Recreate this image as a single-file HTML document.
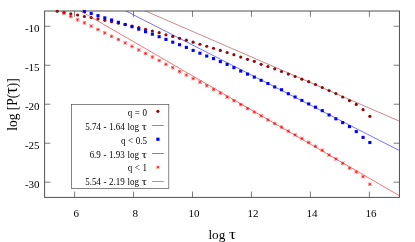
<!DOCTYPE html>
<html><head><meta charset="utf-8"><title>plot</title>
<style>
html,body{margin:0;padding:0;background:#fff;}
svg{display:block;font-family:"Liberation Serif",serif;fill:#000;will-change:transform;}
</style></head>
<body>
<svg width="415" height="242" viewBox="0 0 415 242">
<rect width="415" height="242" fill="#fff"/>
<clipPath id="c"><rect x="44.6" y="11.0" width="354.84999999999997" height="186.4"/></clipPath>
<rect x="44.6" y="11.0" width="354.84999999999997" height="186.4" fill="none" stroke="#505050" stroke-width="1.0"/>
<path d="M74.60 197.4v-5.8M74.60 11.0v5.8" stroke="#505050" stroke-width="0.75"/>
<text x="76.20" y="216.5" font-size="11" text-anchor="middle">6</text>
<path d="M133.56 197.4v-5.8M133.56 11.0v5.8" stroke="#505050" stroke-width="0.75"/>
<text x="135.16" y="216.5" font-size="11" text-anchor="middle">8</text>
<path d="M192.52 197.4v-5.8M192.52 11.0v5.8" stroke="#505050" stroke-width="0.75"/>
<text x="194.12" y="216.5" font-size="11" text-anchor="middle">10</text>
<path d="M251.48 197.4v-5.8M251.48 11.0v5.8" stroke="#505050" stroke-width="0.75"/>
<text x="253.08" y="216.5" font-size="11" text-anchor="middle">12</text>
<path d="M310.44 197.4v-5.8M310.44 11.0v5.8" stroke="#505050" stroke-width="0.75"/>
<text x="312.04" y="216.5" font-size="11" text-anchor="middle">14</text>
<path d="M369.40 197.4v-5.8M369.40 11.0v5.8" stroke="#505050" stroke-width="0.75"/>
<text x="371.00" y="216.5" font-size="11" text-anchor="middle">16</text>
<path d="M44.6 182.20h5.8M399.45 182.20h-5.8" stroke="#505050" stroke-width="0.75"/>
<text x="39.6" y="187.55" font-size="11" text-anchor="end">-30</text>
<path d="M44.6 143.21h5.8M399.45 143.21h-5.8" stroke="#505050" stroke-width="0.75"/>
<text x="39.6" y="148.56" font-size="11" text-anchor="end">-25</text>
<path d="M44.6 104.23h5.8M399.45 104.23h-5.8" stroke="#505050" stroke-width="0.75"/>
<text x="39.6" y="109.58" font-size="11" text-anchor="end">-20</text>
<path d="M44.6 65.24h5.8M399.45 65.24h-5.8" stroke="#505050" stroke-width="0.75"/>
<text x="39.6" y="70.59" font-size="11" text-anchor="end">-15</text>
<path d="M44.6 26.25h5.8M399.45 26.25h-5.8" stroke="#505050" stroke-width="0.75"/>
<text x="39.6" y="31.60" font-size="11" text-anchor="end">-10</text>
<circle cx="57.20" cy="11.27" r="1.58" fill="#900808"/>
<circle cx="64.00" cy="12.50" r="1.58" fill="#900808"/>
<circle cx="70.79" cy="13.80" r="1.58" fill="#900808"/>
<circle cx="77.59" cy="15.00" r="1.58" fill="#900808"/>
<circle cx="84.39" cy="16.50" r="1.58" fill="#900808"/>
<circle cx="91.19" cy="17.50" r="1.58" fill="#900808"/>
<circle cx="97.98" cy="18.90" r="1.58" fill="#900808"/>
<circle cx="104.78" cy="20.30" r="1.58" fill="#900808"/>
<circle cx="111.58" cy="21.65" r="1.58" fill="#900808"/>
<circle cx="118.37" cy="23.20" r="1.58" fill="#900808"/>
<circle cx="125.17" cy="24.60" r="1.58" fill="#900808"/>
<circle cx="131.97" cy="26.00" r="1.58" fill="#900808"/>
<circle cx="138.76" cy="27.50" r="1.58" fill="#900808"/>
<circle cx="145.56" cy="29.30" r="1.58" fill="#900808"/>
<circle cx="152.36" cy="31.00" r="1.58" fill="#900808"/>
<circle cx="159.16" cy="32.65" r="1.58" fill="#900808"/>
<circle cx="165.95" cy="34.80" r="1.58" fill="#900808"/>
<circle cx="172.75" cy="36.40" r="1.58" fill="#900808"/>
<circle cx="179.55" cy="38.30" r="1.58" fill="#900808"/>
<circle cx="186.34" cy="40.20" r="1.58" fill="#900808"/>
<circle cx="193.14" cy="42.14" r="1.58" fill="#900808"/>
<circle cx="199.94" cy="44.27" r="1.58" fill="#900808"/>
<circle cx="206.73" cy="46.28" r="1.58" fill="#900808"/>
<circle cx="213.53" cy="48.28" r="1.58" fill="#900808"/>
<circle cx="220.33" cy="50.40" r="1.58" fill="#900808"/>
<circle cx="227.12" cy="52.50" r="1.58" fill="#900808"/>
<circle cx="233.92" cy="54.70" r="1.58" fill="#900808"/>
<circle cx="240.72" cy="57.05" r="1.58" fill="#900808"/>
<circle cx="247.52" cy="59.30" r="1.58" fill="#900808"/>
<circle cx="254.31" cy="61.30" r="1.58" fill="#900808"/>
<circle cx="261.11" cy="64.30" r="1.58" fill="#900808"/>
<circle cx="267.91" cy="66.50" r="1.58" fill="#900808"/>
<circle cx="274.70" cy="68.80" r="1.58" fill="#900808"/>
<circle cx="281.50" cy="71.50" r="1.58" fill="#900808"/>
<circle cx="288.30" cy="74.05" r="1.58" fill="#900808"/>
<circle cx="295.09" cy="76.50" r="1.58" fill="#900808"/>
<circle cx="301.89" cy="79.20" r="1.58" fill="#900808"/>
<circle cx="308.69" cy="81.70" r="1.58" fill="#900808"/>
<circle cx="315.49" cy="84.50" r="1.58" fill="#900808"/>
<circle cx="322.28" cy="87.50" r="1.58" fill="#900808"/>
<circle cx="329.08" cy="90.50" r="1.58" fill="#900808"/>
<circle cx="335.88" cy="93.50" r="1.58" fill="#900808"/>
<circle cx="342.67" cy="97.00" r="1.58" fill="#900808"/>
<circle cx="349.47" cy="100.60" r="1.58" fill="#900808"/>
<circle cx="356.27" cy="104.40" r="1.58" fill="#900808"/>
<circle cx="363.06" cy="109.65" r="1.58" fill="#900808"/>
<circle cx="369.86" cy="116.30" r="1.58" fill="#900808"/>
<line clip-path="url(#c)" x1="45.12" y1="-32.54" x2="398.88" y2="120.91" stroke="#900808" stroke-width="0.48"/>
<rect x="82.84" y="9.95" width="3.1" height="3.1" fill="#0000ff"/>
<rect x="89.64" y="11.95" width="3.1" height="3.1" fill="#0000ff"/>
<rect x="96.43" y="14.10" width="3.1" height="3.1" fill="#0000ff"/>
<rect x="103.23" y="16.35" width="3.1" height="3.1" fill="#0000ff"/>
<rect x="110.03" y="18.45" width="3.1" height="3.1" fill="#0000ff"/>
<rect x="116.82" y="20.75" width="3.1" height="3.1" fill="#0000ff"/>
<rect x="123.62" y="22.95" width="3.1" height="3.1" fill="#0000ff"/>
<rect x="130.42" y="25.15" width="3.1" height="3.1" fill="#0000ff"/>
<rect x="137.21" y="27.65" width="3.1" height="3.1" fill="#0000ff"/>
<rect x="144.01" y="30.15" width="3.1" height="3.1" fill="#0000ff"/>
<rect x="150.81" y="32.60" width="3.1" height="3.1" fill="#0000ff"/>
<rect x="157.60" y="35.15" width="3.1" height="3.1" fill="#0000ff"/>
<rect x="164.40" y="37.85" width="3.1" height="3.1" fill="#0000ff"/>
<rect x="171.20" y="40.65" width="3.1" height="3.1" fill="#0000ff"/>
<rect x="178.00" y="43.15" width="3.1" height="3.1" fill="#0000ff"/>
<rect x="184.79" y="45.85" width="3.1" height="3.1" fill="#0000ff"/>
<rect x="191.59" y="48.85" width="3.1" height="3.1" fill="#0000ff"/>
<rect x="198.39" y="51.65" width="3.1" height="3.1" fill="#0000ff"/>
<rect x="205.18" y="54.50" width="3.1" height="3.1" fill="#0000ff"/>
<rect x="211.98" y="57.05" width="3.1" height="3.1" fill="#0000ff"/>
<rect x="218.78" y="60.05" width="3.1" height="3.1" fill="#0000ff"/>
<rect x="225.57" y="62.85" width="3.1" height="3.1" fill="#0000ff"/>
<rect x="232.37" y="66.05" width="3.1" height="3.1" fill="#0000ff"/>
<rect x="239.17" y="69.50" width="3.1" height="3.1" fill="#0000ff"/>
<rect x="245.97" y="72.55" width="3.1" height="3.1" fill="#0000ff"/>
<rect x="252.76" y="75.55" width="3.1" height="3.1" fill="#0000ff"/>
<rect x="259.56" y="78.80" width="3.1" height="3.1" fill="#0000ff"/>
<rect x="266.36" y="81.95" width="3.1" height="3.1" fill="#0000ff"/>
<rect x="273.15" y="85.40" width="3.1" height="3.1" fill="#0000ff"/>
<rect x="279.95" y="88.20" width="3.1" height="3.1" fill="#0000ff"/>
<rect x="286.75" y="92.15" width="3.1" height="3.1" fill="#0000ff"/>
<rect x="293.54" y="95.45" width="3.1" height="3.1" fill="#0000ff"/>
<rect x="300.34" y="98.85" width="3.1" height="3.1" fill="#0000ff"/>
<rect x="307.14" y="102.35" width="3.1" height="3.1" fill="#0000ff"/>
<rect x="313.94" y="105.65" width="3.1" height="3.1" fill="#0000ff"/>
<rect x="320.73" y="109.10" width="3.1" height="3.1" fill="#0000ff"/>
<rect x="327.53" y="113.40" width="3.1" height="3.1" fill="#0000ff"/>
<rect x="334.33" y="117.25" width="3.1" height="3.1" fill="#0000ff"/>
<rect x="341.12" y="121.05" width="3.1" height="3.1" fill="#0000ff"/>
<rect x="347.92" y="125.05" width="3.1" height="3.1" fill="#0000ff"/>
<rect x="354.72" y="130.05" width="3.1" height="3.1" fill="#0000ff"/>
<rect x="361.51" y="135.85" width="3.1" height="3.1" fill="#0000ff"/>
<rect x="368.31" y="140.95" width="3.1" height="3.1" fill="#0000ff"/>
<line clip-path="url(#c)" x1="45.12" y1="-30.28" x2="398.88" y2="150.31" stroke="#0000ff" stroke-width="0.55"/>
<path d="M62.25 13.30H65.75M64.00 11.55V15.05M62.33 11.64L65.66 14.96M62.33 14.96L65.66 11.64" stroke="#ff0000" stroke-width="0.6" fill="none"/>
<path d="M69.04 16.50H72.54M70.79 14.75V18.25M69.13 14.84L72.46 18.16M69.13 18.16L72.46 14.84" stroke="#ff0000" stroke-width="0.6" fill="none"/>
<path d="M75.84 19.80H79.34M77.59 18.05V21.55M75.93 18.14L79.25 21.46M75.93 21.46L79.25 18.14" stroke="#ff0000" stroke-width="0.6" fill="none"/>
<path d="M82.64 22.90H86.14M84.39 21.15V24.65M82.73 21.24L86.05 24.56M82.73 24.56L86.05 21.24" stroke="#ff0000" stroke-width="0.6" fill="none"/>
<path d="M89.44 26.05H92.94M91.19 24.30V27.80M89.52 24.39L92.85 27.71M89.52 27.71L92.85 24.39" stroke="#ff0000" stroke-width="0.6" fill="none"/>
<path d="M96.23 29.50H99.73M97.98 27.75V31.25M96.32 27.84L99.64 31.16M96.32 31.16L99.64 27.84" stroke="#ff0000" stroke-width="0.6" fill="none"/>
<path d="M103.03 32.90H106.53M104.78 31.15V34.65M103.12 31.24L106.44 34.56M103.12 34.56L106.44 31.24" stroke="#ff0000" stroke-width="0.6" fill="none"/>
<path d="M109.83 36.30H113.33M111.58 34.55V38.05M109.91 34.64L113.24 37.96M109.91 37.96L113.24 34.64" stroke="#ff0000" stroke-width="0.6" fill="none"/>
<path d="M116.62 39.50H120.12M118.37 37.75V41.25M116.71 37.84L120.04 41.16M116.71 41.16L120.04 37.84" stroke="#ff0000" stroke-width="0.6" fill="none"/>
<path d="M123.42 42.90H126.92M125.17 41.15V44.65M123.51 41.24L126.83 44.56M123.51 44.56L126.83 41.24" stroke="#ff0000" stroke-width="0.6" fill="none"/>
<path d="M130.22 46.40H133.72M131.97 44.65V48.15M130.30 44.74L133.63 48.06M130.30 48.06L133.63 44.74" stroke="#ff0000" stroke-width="0.6" fill="none"/>
<path d="M137.01 50.00H140.51M138.76 48.25V51.75M137.10 48.34L140.43 51.66M137.10 51.66L140.43 48.34" stroke="#ff0000" stroke-width="0.6" fill="none"/>
<path d="M143.81 53.50H147.31M145.56 51.75V55.25M143.90 51.84L147.22 55.16M143.90 55.16L147.22 51.84" stroke="#ff0000" stroke-width="0.6" fill="none"/>
<path d="M150.61 57.00H154.11M152.36 55.25V58.75M150.70 55.34L154.02 58.66M150.70 58.66L154.02 55.34" stroke="#ff0000" stroke-width="0.6" fill="none"/>
<path d="M157.41 60.55H160.91M159.16 58.80V62.30M157.49 58.89L160.82 62.21M157.49 62.21L160.82 58.89" stroke="#ff0000" stroke-width="0.6" fill="none"/>
<path d="M164.20 64.30H167.70M165.95 62.55V66.05M164.29 62.64L167.61 65.96M164.29 65.96L167.61 62.64" stroke="#ff0000" stroke-width="0.6" fill="none"/>
<path d="M171.00 67.60H174.50M172.75 65.85V69.35M171.09 65.94L174.41 69.26M171.09 69.26L174.41 65.94" stroke="#ff0000" stroke-width="0.6" fill="none"/>
<path d="M177.80 71.58H181.30M179.55 69.83V73.33M177.88 69.92L181.21 73.24M177.88 73.24L181.21 69.92" stroke="#ff0000" stroke-width="0.6" fill="none"/>
<path d="M184.59 75.08H188.09M186.34 73.33V76.83M184.68 73.42L188.01 76.74M184.68 76.74L188.01 73.42" stroke="#ff0000" stroke-width="0.6" fill="none"/>
<path d="M191.39 78.58H194.89M193.14 76.83V80.33M191.48 76.92L194.80 80.24M191.48 80.24L194.80 76.92" stroke="#ff0000" stroke-width="0.6" fill="none"/>
<path d="M198.19 82.13H201.69M199.94 80.38V83.88M198.27 80.47L201.60 83.79M198.27 83.79L201.60 80.47" stroke="#ff0000" stroke-width="0.6" fill="none"/>
<path d="M204.98 85.68H208.48M206.73 83.93V87.43M205.07 84.02L208.40 87.34M205.07 87.34L208.40 84.02" stroke="#ff0000" stroke-width="0.6" fill="none"/>
<path d="M211.78 89.48H215.28M213.53 87.73V91.23M211.87 87.82L215.19 91.14M211.87 91.14L215.19 87.82" stroke="#ff0000" stroke-width="0.6" fill="none"/>
<path d="M218.58 93.08H222.08M220.33 91.33V94.83M218.67 91.42L221.99 94.74M218.67 94.74L221.99 91.42" stroke="#ff0000" stroke-width="0.6" fill="none"/>
<path d="M225.38 97.08H228.88M227.12 95.33V98.83M225.46 95.42L228.79 98.74M225.46 98.74L228.79 95.42" stroke="#ff0000" stroke-width="0.6" fill="none"/>
<path d="M232.17 100.78H235.67M233.92 99.03V102.53M232.26 99.12L235.58 102.44M232.26 102.44L235.58 99.12" stroke="#ff0000" stroke-width="0.6" fill="none"/>
<path d="M238.97 104.58H242.47M240.72 102.83V106.33M239.06 102.92L242.38 106.24M239.06 106.24L242.38 102.92" stroke="#ff0000" stroke-width="0.6" fill="none"/>
<path d="M245.77 108.58H249.27M247.52 106.83V110.33M245.85 106.92L249.18 110.24M245.85 110.24L249.18 106.92" stroke="#ff0000" stroke-width="0.6" fill="none"/>
<path d="M252.56 112.08H256.06M254.31 110.33V113.83M252.65 110.42L255.98 113.74M252.65 113.74L255.98 110.42" stroke="#ff0000" stroke-width="0.6" fill="none"/>
<path d="M259.36 115.88H262.86M261.11 114.13V117.63M259.45 114.22L262.77 117.54M259.45 117.54L262.77 114.22" stroke="#ff0000" stroke-width="0.6" fill="none"/>
<path d="M266.16 119.88H269.66M267.91 118.13V121.63M266.24 118.22L269.57 121.54M266.24 121.54L269.57 118.22" stroke="#ff0000" stroke-width="0.6" fill="none"/>
<path d="M272.95 123.58H276.45M274.70 121.83V125.33M273.04 121.92L276.37 125.24M273.04 125.24L276.37 121.92" stroke="#ff0000" stroke-width="0.6" fill="none"/>
<path d="M279.75 127.13H283.25M281.50 125.38V128.88M279.84 125.47L283.16 128.79M279.84 128.79L283.16 125.47" stroke="#ff0000" stroke-width="0.6" fill="none"/>
<path d="M286.55 131.18H290.05M288.30 129.43V132.93M286.64 129.52L289.96 132.84M286.64 132.84L289.96 129.52" stroke="#ff0000" stroke-width="0.6" fill="none"/>
<path d="M293.34 134.88H296.84M295.09 133.13V136.63M293.43 133.22L296.76 136.54M293.43 136.54L296.76 133.22" stroke="#ff0000" stroke-width="0.6" fill="none"/>
<path d="M300.14 138.48H303.64M301.89 136.73V140.23M300.23 136.82L303.55 140.14M300.23 140.14L303.55 136.82" stroke="#ff0000" stroke-width="0.6" fill="none"/>
<path d="M306.94 142.48H310.44M308.69 140.73V144.23M307.03 140.82L310.35 144.14M307.03 144.14L310.35 140.82" stroke="#ff0000" stroke-width="0.6" fill="none"/>
<path d="M313.74 146.30H317.24M315.49 144.55V148.05M313.82 144.64L317.15 147.96M313.82 147.96L317.15 144.64" stroke="#ff0000" stroke-width="0.6" fill="none"/>
<path d="M320.53 150.30H324.03M322.28 148.55V152.05M320.62 148.64L323.95 151.96M320.62 151.96L323.95 148.64" stroke="#ff0000" stroke-width="0.6" fill="none"/>
<path d="M327.33 155.00H330.83M329.08 153.25V156.75M327.42 153.34L330.74 156.66M327.42 156.66L330.74 153.34" stroke="#ff0000" stroke-width="0.6" fill="none"/>
<path d="M334.13 158.90H337.63M335.88 157.15V160.65M334.21 157.24L337.54 160.56M334.21 160.56L337.54 157.24" stroke="#ff0000" stroke-width="0.6" fill="none"/>
<path d="M340.92 163.30H344.42M342.67 161.55V165.05M341.01 161.64L344.34 164.96M341.01 164.96L344.34 161.64" stroke="#ff0000" stroke-width="0.6" fill="none"/>
<path d="M347.72 168.20H351.22M349.47 166.45V169.95M347.81 166.54L351.13 169.86M347.81 169.86L351.13 166.54" stroke="#ff0000" stroke-width="0.6" fill="none"/>
<path d="M354.52 172.00H358.02M356.27 170.25V173.75M354.61 170.34L357.93 173.66M354.61 173.66L357.93 170.34" stroke="#ff0000" stroke-width="0.6" fill="none"/>
<path d="M361.31 176.70H364.81M363.06 174.95V178.45M361.40 175.04L364.73 178.36M361.40 178.36L364.73 175.04" stroke="#ff0000" stroke-width="0.6" fill="none"/>
<path d="M368.11 184.20H371.61M369.86 182.45V185.95M368.20 182.54L371.52 185.86M368.20 185.86L371.52 182.54" stroke="#ff0000" stroke-width="0.6" fill="none"/>
<line clip-path="url(#c)" x1="45.12" y1="-9.54" x2="398.88" y2="195.38" stroke="#ff0000" stroke-width="0.55"/>
<text x="208.4" y="238.6" font-size="13.2">log</text>
<text transform="translate(228.9 238.6) scale(1.18 1)" font-size="14.6">τ</text>
<text transform="translate(16.5 104.5) rotate(-90) scale(0.895 1)" font-size="15" text-anchor="middle">log [P(<tspan font-size="18.5">τ</tspan>)]</text>
<rect x="71.5" y="104.6" width="97.3" height="83.8" fill="#fff" stroke="#505050" stroke-width="0.7"/>
<text transform="translate(147.0 115.60) scale(0.9 1)" font-size="10" text-anchor="end" word-spacing="0.4">q = 0</text>
<circle cx="157.9" cy="111.30" r="1.58" fill="#900808"/>
<text transform="translate(138.9 129.57) scale(0.9 1)" font-size="10" text-anchor="end" word-spacing="0.4">5.74 - 1.64 log</text>
<text transform="translate(141.6 129.57) scale(1.22 1.0)" font-size="11.2" fill="#222">τ</text>
<line x1="152.1" x2="163.7" y1="125.50" y2="125.50" stroke="#900808" stroke-width="0.55"/>
<text transform="translate(147.0 143.54) scale(0.9 1)" font-size="10" text-anchor="end" word-spacing="0.4">q &lt; 0.5</text>
<rect x="156.3" y="137.64" width="3.2" height="3.2" fill="#0000ff"/>
<text transform="translate(138.9 157.51) scale(0.9 1)" font-size="10" text-anchor="end" word-spacing="0.4">6.9 - 1.93 log</text>
<text transform="translate(141.6 157.51) scale(1.22 1.0)" font-size="11.2" fill="#222">τ</text>
<line x1="152.1" x2="163.7" y1="153.50" y2="153.50" stroke="#0000ff" stroke-width="0.55"/>
<text transform="translate(147.0 171.48) scale(0.9 1)" font-size="10" text-anchor="end" word-spacing="0.4">q &lt; 1</text>
<path d="M156.40 167.18H159.40M157.90 165.68V168.68M156.47 165.75L159.33 168.61M156.47 168.61L159.33 165.75" stroke="#ff0000" stroke-width="0.6" fill="none"/>
<text transform="translate(138.9 185.45) scale(0.9 1)" font-size="10" text-anchor="end" word-spacing="0.4">5.54 - 2.19 log</text>
<text transform="translate(141.6 185.45) scale(1.22 1.0)" font-size="11.2" fill="#222">τ</text>
<line x1="152.1" x2="163.7" y1="181.50" y2="181.50" stroke="#ff0000" stroke-width="0.55"/>
</svg>
</body></html>
